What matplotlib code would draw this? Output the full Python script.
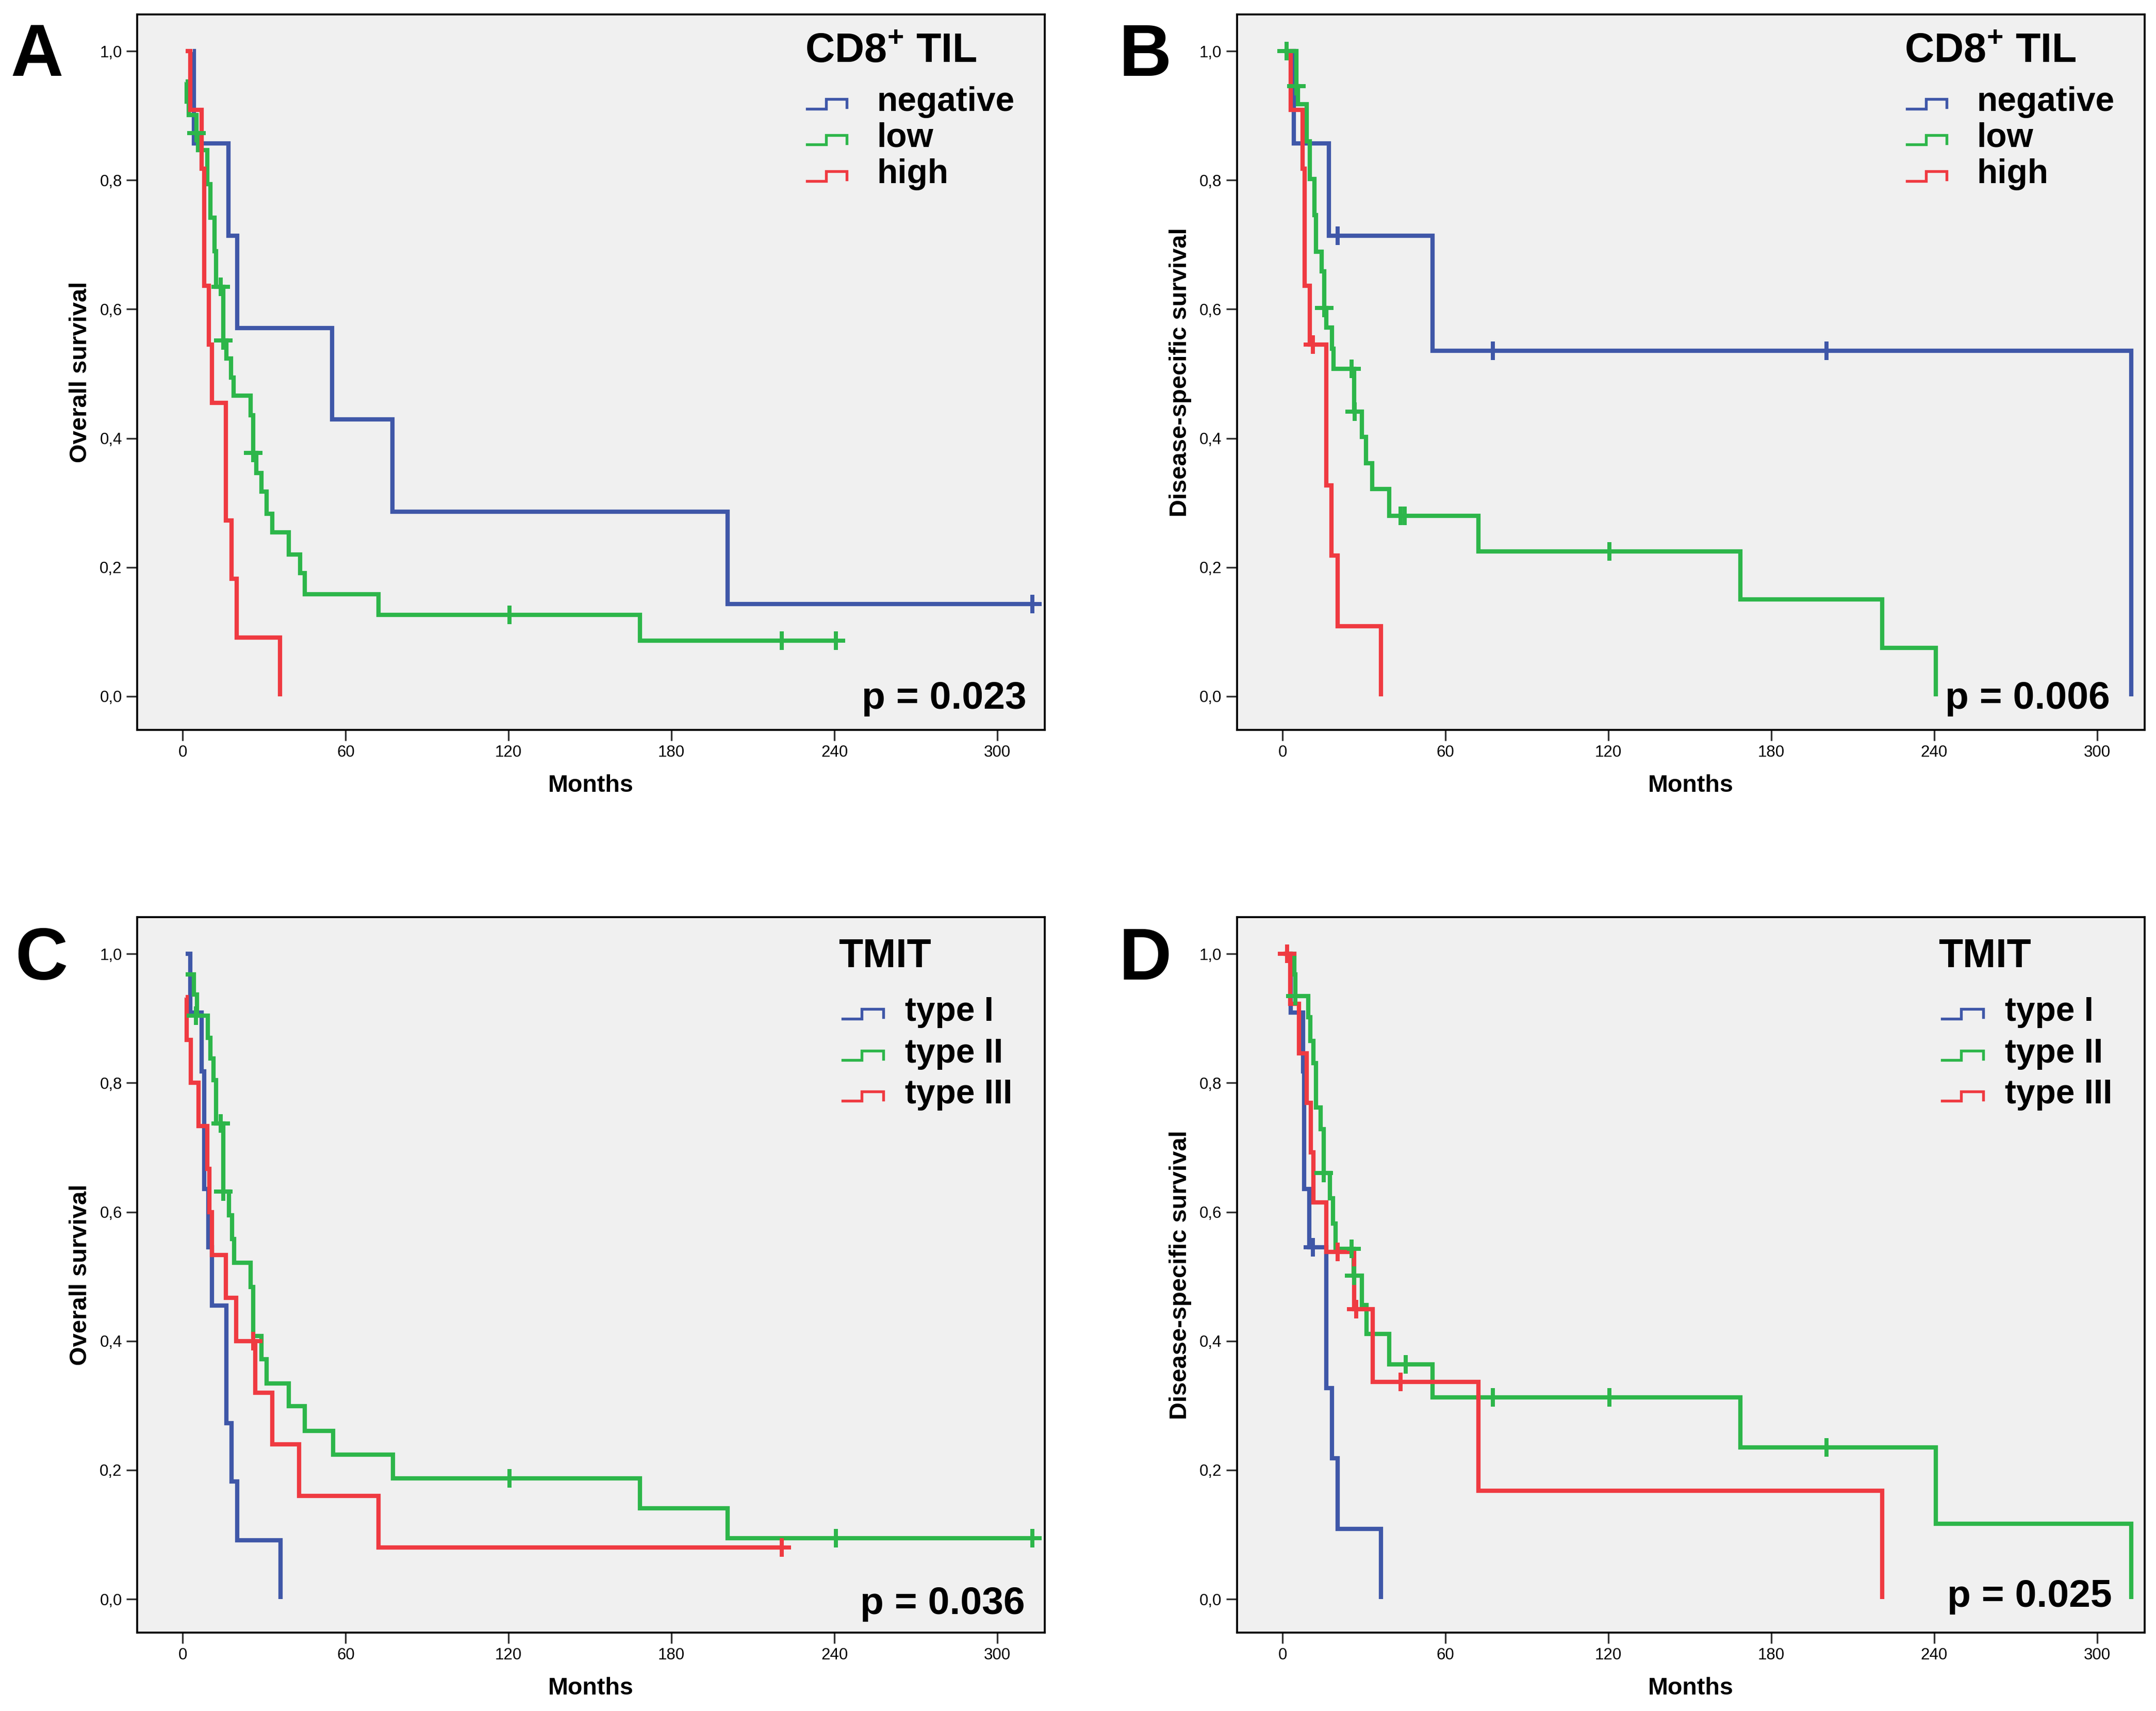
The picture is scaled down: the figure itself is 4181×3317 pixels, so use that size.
import matplotlib
matplotlib.use("Agg")
import matplotlib.pyplot as plt

plt.rcParams['font.family'] = ['Liberation Sans', 'DejaVu Sans']
plt.rcParams['mathtext.fontset'] = 'custom'
plt.rcParams['mathtext.bf'] = 'Liberation Sans:bold'
plt.rcParams['mathtext.rm'] = 'Liberation Sans'

BLUE = '#3F57A8'
GREEN = '#2DB64A'
RED = '#EF3A41'
BG = '#F0F0F0'

X_TICKS = [0, 60, 120, 180, 240, 300]
Y_TICKS = [0.0, 0.2, 0.4, 0.6, 0.8, 1.0]
Y_TICK_LABELS = ['0,0', '0,2', '0,4', '0,6', '0,8', '1,0']

# ---- Panel A: overall survival, CD8+ TIL ----
A_NEG_T = [3.8, 4.2, 16.8, 20.0, 55.0, 77.2, 200.6, 313.0]
A_NEG_S = [1.0, 0.857, 0.714, 0.571, 0.429, 0.286, 0.143, 0.143]
A_NEG_CT = [313.0]
A_NEG_CS = [0.143]

A_LOW_T = [1.0, 1.5, 2.3, 5.0, 5.6, 9.0, 10.1, 11.7, 12.3, 15.0, 16.1, 17.7, 18.8,
           25.0, 25.9, 27.0, 29.0, 30.8, 33.0, 39.0, 43.2, 45.0, 72.1, 168.4, 240.6]
A_LOW_S = [0.953, 0.922, 0.901, 0.873, 0.847, 0.794, 0.742, 0.690, 0.635, 0.552, 0.524,
           0.494, 0.466, 0.436, 0.377, 0.346, 0.317, 0.283, 0.254, 0.220, 0.191, 0.158,
           0.126, 0.086, 0.086]
A_LOW_CT = [5.0, 14.0, 15.0, 25.9, 120.3, 220.7, 240.6]
A_LOW_CS = [0.873, 0.635, 0.552, 0.377, 0.126, 0.086, 0.086]

A_HIGH_T = [1.0, 2.7, 7.0, 8.0, 9.7, 10.8, 15.9, 17.9, 19.8, 35.9]
A_HIGH_S = [1.0, 0.909, 0.818, 0.636, 0.545, 0.455, 0.273, 0.182, 0.091, 0.0]
A_HIGH_CT = []
A_HIGH_CS = []

# ---- Panel B: disease-specific survival, CD8+ TIL ----
B_NEG_T = [3.8, 4.2, 17.1, 55.3, 312.6]
B_NEG_S = [1.0, 0.857, 0.714, 0.536, 0.0]
B_NEG_CT = [20.3, 77.5, 200.4]
B_NEG_CS = [0.714, 0.536, 0.536]

B_LOW_T = [0.5, 5.2, 5.6, 9.0, 10.1, 11.8, 12.3, 14.5, 15.4, 16.1, 18.3, 18.8, 26.3,
           29.2, 30.8, 33.0, 39.3, 72.2, 168.7, 220.8, 240.7]
B_LOW_S = [1.0, 0.946, 0.918, 0.860, 0.802, 0.746, 0.689, 0.659, 0.602, 0.572, 0.539,
           0.508, 0.441, 0.402, 0.361, 0.321, 0.280, 0.225, 0.150, 0.075, 0.0]
B_LOW_CT = [1.5, 5.2, 15.4, 25.4, 26.5, 43.4, 45.0, 120.4]
B_LOW_CS = [1.0, 0.946, 0.602, 0.508, 0.441, 0.280, 0.280, 0.225]

B_HIGH_T = [2.6, 3.0, 7.3, 8.2, 10.1, 16.1, 18.0, 20.3, 36.3]
B_HIGH_S = [1.0, 0.909, 0.818, 0.636, 0.545, 0.327, 0.218, 0.109, 0.0]
B_HIGH_CT = [11.1]
B_HIGH_CS = [0.545]

# ---- Panel C: overall survival, TMIT ----
C_T1_T = [1.0, 2.7, 7.0, 8.0, 9.4, 10.8, 16.0, 17.9, 20.0, 36.0]
C_T1_S = [1.0, 0.909, 0.818, 0.636, 0.545, 0.455, 0.273, 0.182, 0.091, 0.0]
C_T1_CT = []
C_T1_CS = []

C_T2_T = [1.0, 4.2, 5.2, 9.2, 10.2, 11.4, 12.2, 15.0, 17.0, 18.1, 19.0, 25.0, 26.0,
          29.0, 30.9, 39.0, 45.0, 55.4, 77.5, 168.4, 200.6, 313.0]
C_T2_S = [0.968, 0.937, 0.904, 0.870, 0.838, 0.804, 0.737, 0.632, 0.595, 0.558, 0.521,
          0.484, 0.408, 0.372, 0.334, 0.299, 0.261, 0.224, 0.187, 0.141, 0.094, 0.094]
C_T2_CT = [4.8, 14.0, 15.0, 120.3, 240.6, 313.0]
C_T2_CS = [0.904, 0.737, 0.632, 0.187, 0.094, 0.094]

C_T3_T = [1.0, 1.5, 2.9, 5.8, 9.1, 9.9, 10.8, 15.9, 19.7, 26.8, 33.0, 42.8, 72.1, 220.6]
C_T3_S = [0.933, 0.867, 0.800, 0.733, 0.667, 0.600, 0.533, 0.467, 0.400, 0.320, 0.240,
          0.160, 0.080, 0.080]
C_T3_CT = [26.0, 220.6]
C_T3_CS = [0.400, 0.080]

# ---- Panel D: disease-specific survival, TMIT ----
D_T1_T = [2.6, 3.0, 7.5, 7.9, 9.8, 16.1, 18.2, 20.3, 36.3]
D_T1_S = [1.0, 0.909, 0.818, 0.636, 0.545, 0.327, 0.218, 0.109, 0.0]
D_T1_CT = [11.1]
D_T1_CS = [0.545]

D_T2_T = [0.5, 4.4, 4.7, 9.4, 10.3, 11.3, 12.3, 14.0, 15.1, 17.5, 18.5, 19.5, 26.1,
          29.3, 30.9, 39.3, 55.3, 168.7, 240.7, 312.6]
D_T2_S = [1.0, 0.968, 0.935, 0.902, 0.865, 0.831, 0.762, 0.728, 0.660, 0.621, 0.582,
          0.543, 0.501, 0.456, 0.411, 0.364, 0.313, 0.235, 0.117, 0.0]
D_T2_CT = [4.8, 15.1, 25.4, 26.3, 45.4, 77.5, 120.4, 200.4]
D_T2_CS = [0.935, 0.660, 0.543, 0.501, 0.364, 0.313, 0.313, 0.235]

D_T3_T = [0.3, 2.8, 6.0, 9.0, 10.4, 11.4, 16.1, 26.3, 33.2, 72.2, 220.8]
D_T3_S = [1.0, 0.923, 0.846, 0.769, 0.692, 0.615, 0.538, 0.449, 0.337, 0.168, 0.0]
D_T3_CT = [1.6, 20.3, 27.2, 43.4]
D_T3_CS = [1.0, 0.538, 0.449, 0.337]

CD8_LABELS = ['negative', 'low', 'high']
TMIT_LABELS = ['type I', 'type II', 'type III']


def draw_curve(ax, t, s, ct, cs, color):
    ax.step(t, s, where='post', color=color, lw=2.0,
            solid_joinstyle='miter', solid_capstyle='butt', zorder=3)
    if ct:
        ax.plot(ct, cs, ls='none', marker='+', ms=8.5, mew=1.9, color=color, zorder=4)


def draw_legend(ax, title, labels, colors, lay):
    ax.text(lay['title_x'], lay['title_y'], title, transform=ax.transAxes,
            fontsize=lay['title_size'], fontweight='bold', ha='left', va='baseline')
    x0, xm, x1 = lay['icon_x']
    for lab, col, yb in zip(labels, colors, lay['rows']):
        lo = yb + 0.003
        hi = yb + 0.0165
        ax.plot([x0, xm, xm, x1, x1], [lo, lo, hi, hi, lo + 0.002],
                transform=ax.transAxes, color=col, lw=1.3,
                solid_joinstyle='miter', clip_on=False, zorder=5)
        ax.text(lay['text_x'], yb, lab, transform=ax.transAxes, fontsize=15.8,
                fontweight='bold', ha='left', va='baseline')


def setup_axes(ax, ylabel):
    ax.set_facecolor(BG)
    ax.set_xlim(-16.8, 317.5)
    ax.set_ylim(-0.052, 1.057)
    ax.set_xticks(X_TICKS)
    ax.set_yticks(Y_TICKS)
    ax.set_yticklabels(Y_TICK_LABELS)
    ax.tick_params(direction='out', length=5, width=0.8, labelsize=7.5, pad=2,
                   color='#333333')
    for sp in ax.spines.values():
        sp.set_linewidth(0.9)
        sp.set_color('black')
    ax.set_xlabel('Months', fontsize=11.2, fontweight='bold')
    ax.xaxis.set_label_coords(0.5, -0.062)
    ax.set_ylabel(ylabel, fontsize=11.3, fontweight='bold')
    ax.yaxis.set_label_coords(-0.05, 0.5)


LAY_CD8 = dict(title_x=0.7356, title_y=0.9335, icon_x=(0.738, 0.759, 0.782),
               text_x=0.815, rows=[0.865, 0.815, 0.764], title_size=19)
LAY_TMIT = dict(title_x=0.7727, title_y=0.930, icon_x=(0.777, 0.798, 0.822),
                text_x=0.846, rows=[0.855, 0.797, 0.740], title_size=18.5)

fig = plt.figure(figsize=(4181 / 300, 3317 / 300), dpi=300)
W, H = 0.421, 0.4182
axA = fig.add_axes([0.0636, 0.5734, W, H])
axB = fig.add_axes([0.5737, 0.5734, W, H])
axC = fig.add_axes([0.0636, 0.0458, W, H])
axD = fig.add_axes([0.5737, 0.0458, W, H])

cols = [BLUE, GREEN, RED]

setup_axes(axA, 'Overall survival')
draw_curve(axA, A_NEG_T, A_NEG_S, A_NEG_CT, A_NEG_CS, BLUE)
draw_curve(axA, A_LOW_T, A_LOW_S, A_LOW_CT, A_LOW_CS, GREEN)
draw_curve(axA, A_HIGH_T, A_HIGH_S, A_HIGH_CT, A_HIGH_CS, RED)
draw_legend(axA, r'CD8$^{\mathbf{+}}$ TIL', CD8_LABELS, cols, LAY_CD8)
axA.text(0.980, 0.0296, 'p = 0.023', transform=axA.transAxes, fontsize=18,
         fontweight='bold', ha='right', va='baseline')

setup_axes(axB, 'Disease-specific survival')
draw_curve(axB, B_NEG_T, B_NEG_S, B_NEG_CT, B_NEG_CS, BLUE)
draw_curve(axB, B_LOW_T, B_LOW_S, B_LOW_CT, B_LOW_CS, GREEN)
draw_curve(axB, B_HIGH_T, B_HIGH_S, B_HIGH_CT, B_HIGH_CS, RED)
draw_legend(axB, r'CD8$^{\mathbf{+}}$ TIL', CD8_LABELS, cols, LAY_CD8)
axB.text(0.962, 0.0296, 'p = 0.006', transform=axB.transAxes, fontsize=18,
         fontweight='bold', ha='right', va='baseline')

setup_axes(axC, 'Overall survival')
draw_curve(axC, C_T1_T, C_T1_S, C_T1_CT, C_T1_CS, BLUE)
draw_curve(axC, C_T2_T, C_T2_S, C_T2_CT, C_T2_CS, GREEN)
draw_curve(axC, C_T3_T, C_T3_S, C_T3_CT, C_T3_CS, RED)
draw_legend(axC, 'TMIT', TMIT_LABELS, cols, LAY_TMIT)
axC.text(0.978, 0.0262, 'p = 0.036', transform=axC.transAxes, fontsize=18,
         fontweight='bold', ha='right', va='baseline')

setup_axes(axD, 'Disease-specific survival')
draw_curve(axD, D_T1_T, D_T1_S, D_T1_CT, D_T1_CS, BLUE)
draw_curve(axD, D_T2_T, D_T2_S, D_T2_CT, D_T2_CS, GREEN)
draw_curve(axD, D_T3_T, D_T3_S, D_T3_CT, D_T3_CS, RED)
draw_legend(axD, 'TMIT', TMIT_LABELS, cols, LAY_TMIT)
axD.text(0.964, 0.0363, 'p = 0.025', transform=axD.transAxes, fontsize=18,
         fontweight='bold', ha='right', va='baseline')

for letter, x, y in [('A', 0.005, 0.9558), ('B', 0.519, 0.9558),
                     ('C', 0.007, 0.4275), ('D', 0.519, 0.4275)]:
    fig.text(x, y, letter, fontsize=34, fontweight='bold', ha='left', va='baseline')

fig.savefig('out.png', dpi=300, facecolor='white')
